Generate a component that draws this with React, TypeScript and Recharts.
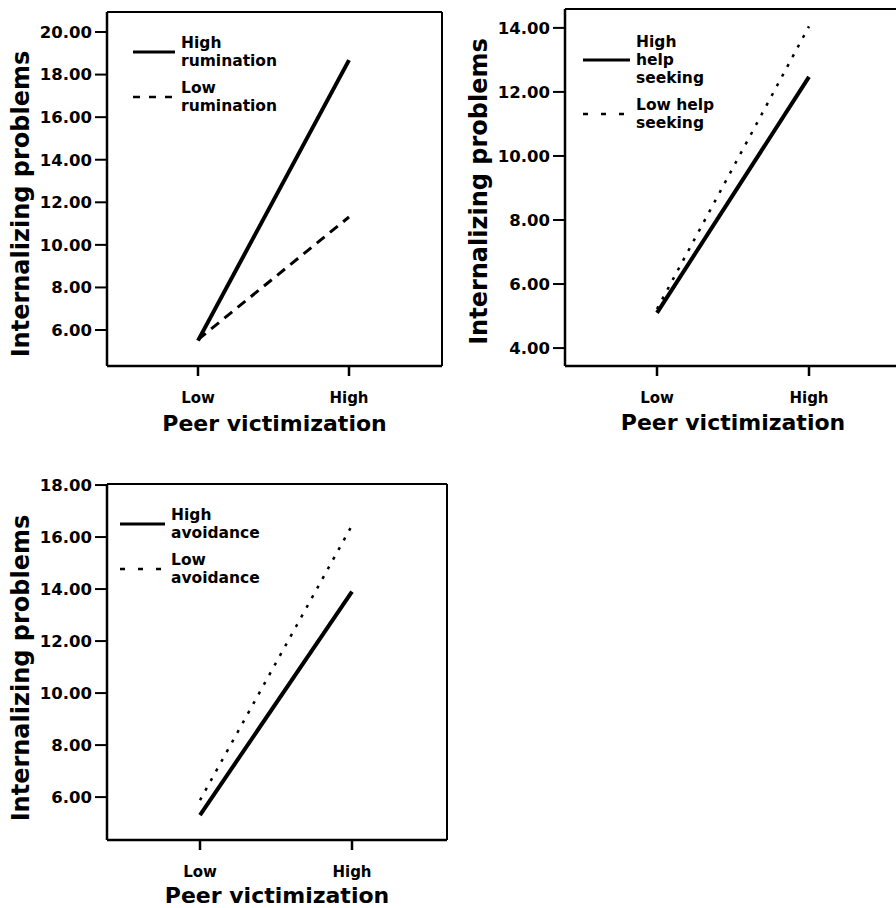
import React from 'react';
import { LineChart, Line, XAxis, YAxis, Legend } from 'recharts';

const categories = ['Low', 'High'];

const highRumination = [5.5, 18.68];
const lowRumination = [5.55, 11.31];
const highHelpSeeking = [5.1, 12.47];
const lowHelpSeeking = [5.22, 14.05];
const highAvoidance = [5.31, 13.9];
const lowAvoidance = [5.88, 16.45];

const ticksRumination = [6, 8, 10, 12, 14, 16, 18, 20];
const ticksHelp = [4, 6, 8, 10, 12, 14];
const ticksAvoidance = [6, 8, 10, 12, 14, 16, 18];

const xTitle = 'Peer victimization';
const yTitle = 'Internalizing problems';

const FONT = '"DejaVu Sans", Verdana, sans-serif';

type SeriesCfg = {
  key: string;
  name: string;
  values: number[];
  width: number;
  dash?: string;
  legendDash?: string;
};

type PanelCfg = {
  left: number;
  top: number;
  width: number;
  height: number;
  margin: { top: number; right: number; bottom: number; left: number };
  yWidth: number;
  domain: [number, number];
  ticks: number[];
  padding: { left: number; right: number };
  series: SeriesCfg[];
  legend: { left: number; top: number; sample: number };
  xTitleDy: number;
  yTitleDx: number;
  yTitleShift: number;
};

const buildData = (series: SeriesCfg[]) =>
  categories.map((cat, i) => {
    const row: Record<string, string | number> = { cat };
    series.forEach((s) => {
      row[s.key] = s.values[i];
    });
    return row;
  });

const panels: PanelCfg[] = [
  {
    left: 0,
    top: 0,
    width: 460,
    height: 440,
    margin: { top: 11, right: 17, bottom: 14, left: 0 },
    yWidth: 107,
    domain: [4.31, 20.94],
    ticks: ticksRumination,
    padding: { left: 91, right: 93 },
    series: [
      { key: 'highRum', name: 'High\nrumination', values: highRumination, width: 4 },
      { key: 'lowRum', name: 'Low\nrumination', values: lowRumination, width: 3, dash: '10 7', legendDash: '7 9' },
    ],
    legend: { left: 133, top: 34, sample: 42 },
    xTitleDy: 57,
    yTitleDx: 87,
    yTitleShift: 15,
  },
  {
    left: 460,
    top: 0,
    width: 460,
    height: 440,
    margin: { top: 8, right: 18, bottom: 14, left: 0 },
    yWidth: 105,
    domain: [3.44, 14.59],
    ticks: ticksHelp,
    padding: { left: 92, right: 92 },
    series: [
      { key: 'highHelp', name: 'High\nhelp\nseeking', values: highHelpSeeking, width: 4 },
      { key: 'lowHelp', name: 'Low help\nseeking', values: lowHelpSeeking, width: 2.5, dash: '3 8', legendDash: '5 13' },
    ],
    legend: { left: 123, top: 33, sample: 47 },
    xTitleDy: 56,
    yTitleDx: 87,
    yTitleShift: 4,
  },
  {
    left: 0,
    top: 460,
    width: 460,
    height: 448,
    margin: { top: 23, right: 12, bottom: 8, left: 0 },
    yWidth: 107,
    domain: [4.35, 18.04],
    ticks: ticksAvoidance,
    padding: { left: 93, right: 95 },
    series: [
      { key: 'highAvoid', name: 'High\navoidance', values: highAvoidance, width: 4 },
      { key: 'lowAvoid', name: 'Low\navoidance', values: lowAvoidance, width: 2.5, dash: '3 8', legendDash: '5 13' },
    ],
    legend: { left: 120, top: 46, sample: 45 },
    xTitleDy: 55,
    yTitleDx: 87,
    yTitleShift: 6,
  },
];

const Panel = ({ cfg }: { cfg: PanelCfg }) => {
  const data = buildData(cfg.series);

  const renderLegend = (props: any) => {
    const payload = props.payload || [];
    return (
      <div
        style={{
          fontFamily: FONT,
          fontSize: 15.5,
          fontWeight: 'bold',
          lineHeight: '18px',
          color: '#000',
        }}
      >
        {payload.map((entry: any, i: number) => {
          const s = cfg.series[i];
          return (
            <div
              key={i}
              style={{ display: 'flex', alignItems: 'center', marginBottom: 9 }}
            >
              <svg width={cfg.legend.sample} height={6} style={{ display: 'block' }}>
                <line
                  x1={0}
                  y1={3}
                  x2={cfg.legend.sample}
                  y2={3}
                  stroke="#000"
                  strokeWidth={s.dash ? 2.5 : 3}
                  strokeDasharray={s.legendDash}
                />
              </svg>
              <div style={{ whiteSpace: 'pre-line', marginLeft: 6 }}>{entry.value}</div>
            </div>
          );
        })}
      </div>
    );
  };

  const yLabel = (props: any) => {
    const vb = props.viewBox || {};
    const x = vb.x + vb.width - cfg.yTitleDx;
    const y = vb.y + vb.height / 2 + cfg.yTitleShift;
    return (
      <text
        x={x}
        y={y}
        transform={`rotate(-90, ${x}, ${y})`}
        textAnchor="middle"
        dy="0.36em"
        fontFamily={FONT}
        fontSize={24}
        fontWeight="bold"
        fill="#000"
      >
        {yTitle}
      </text>
    );
  };

  const xLabel = (props: any) => {
    const vb = props.viewBox || {};
    const x = vb.x + vb.width / 2;
    const y = vb.y + cfg.xTitleDy;
    return (
      <text
        x={x}
        y={y}
        textAnchor="middle"
        dy="0.36em"
        fontFamily={FONT}
        fontSize={22}
        fontWeight="bold"
        fill="#000"
      >
        {xTitle}
      </text>
    );
  };

  return (
    <div style={{ position: 'absolute', left: cfg.left, top: cfg.top }}>
      <LineChart width={cfg.width} height={cfg.height} data={data} margin={cfg.margin}>
        <XAxis
          dataKey="cat"
          type="category"
          padding={cfg.padding}
          height={60}
          interval={0}
          axisLine={{ stroke: '#000', strokeWidth: 2.5 }}
          tickLine={{ stroke: '#000', strokeWidth: 2.5 }}
          tickSize={10}
          tickMargin={16}
          tick={{ fill: '#000', fontSize: 15, fontWeight: 'bold', fontFamily: FONT }}
          label={xLabel}
        />
        <XAxis
          xAxisId="top"
          orientation="top"
          dataKey="cat"
          type="category"
          padding={cfg.padding}
          height={1}
          tick={false}
          tickLine={false}
          axisLine={{ stroke: '#000', strokeWidth: 2 }}
        />
        <YAxis
          type="number"
          domain={cfg.domain}
          ticks={cfg.ticks}
          interval={0}
          width={cfg.yWidth}
          tickFormatter={(v: number) => v.toFixed(2)}
          axisLine={{ stroke: '#000', strokeWidth: 2.5 }}
          tickLine={{ stroke: '#000', strokeWidth: 2 }}
          tickSize={12}
          tickMargin={3}
          tick={{ fill: '#000', fontSize: 16.5, fontWeight: 'bold', fontFamily: FONT }}
          label={yLabel}
        />
        <YAxis
          yAxisId="right"
          orientation="right"
          type="number"
          domain={cfg.domain}
          width={1}
          tick={false}
          tickLine={false}
          axisLine={{ stroke: '#000', strokeWidth: 2 }}
        />
        {cfg.series.map((s) => (
          <Line
            key={s.key}
            type="linear"
            dataKey={s.key}
            name={s.name}
            stroke="#000"
            strokeWidth={s.width}
            strokeDasharray={s.dash}
            dot={false}
            activeDot={false}
            isAnimationActive={false}
          />
        ))}
        <Legend
          layout="vertical"
          align="center"
          verticalAlign="middle"
          content={renderLegend}
          wrapperStyle={{ left: cfg.legend.left, top: cfg.legend.top, width: 'auto' }}
        />
      </LineChart>
    </div>
  );
};

export default function App() {
  return (
    <div
      style={{
        position: 'absolute',
        left: 0,
        top: 0,
        width: 896,
        height: 908,
        overflow: 'hidden',
        background: '#fff',
      }}
    >
      {panels.map((p, i) => (
        <Panel key={i} cfg={p} />
      ))}
    </div>
  );
}
